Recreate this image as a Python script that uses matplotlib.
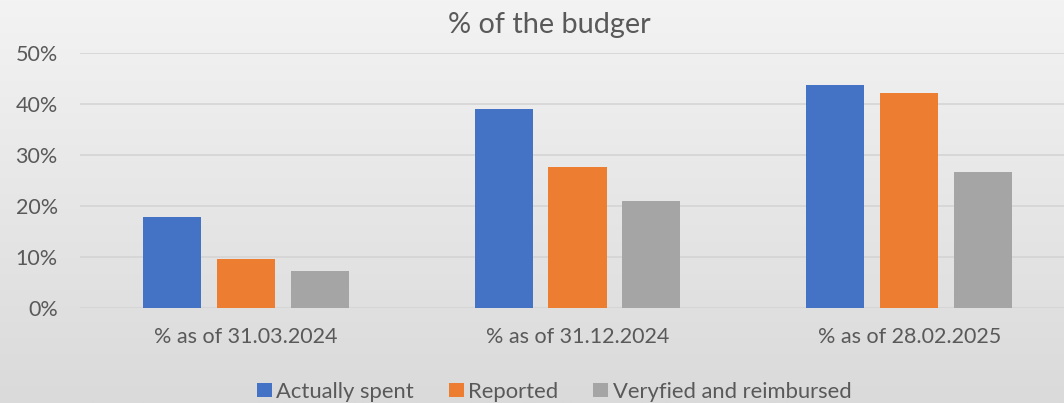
import numpy as np
import matplotlib
matplotlib.use("Agg")
import matplotlib.pyplot as plt
from matplotlib.colors import LinearSegmentedColormap
from matplotlib.patches import Patch

categories = ["% as of 31.03.2024", "% as of 31.12.2024", "% as of 28.02.2025"]
series_names = ["Actually spent", "Reported", "Veryfied and reimbursed"]
actually_spent = [0.178, 0.390, 0.437]
reported = [0.096, 0.276, 0.422]
verified = [0.072, 0.210, 0.266]
yticks = [0, 0.1, 0.2, 0.3, 0.4, 0.5]
ytick_labels = ["0%", "10%", "20%", "30%", "40%", "50%"]
title = "% of the budger"

colors = ["#4472C4", "#ED7D31", "#A5A5A5"]
text_color = "#595959"

plt.rcParams['font.family'] = ['Lato', 'DejaVu Sans']

W, H = 1064, 403
fig = plt.figure(figsize=(W / 100, H / 100), dpi=100)

# gradient background
bg = fig.add_axes([0, 0, 1, 1], zorder=-10)
grad = np.linspace(0, 1, 256).reshape(-1, 1)
cmap = LinearSegmentedColormap.from_list("bg", ["#f3f3f3", "#dadada"])
bg.imshow(grad, aspect="auto", cmap=cmap, extent=[0, 1, 0, 1], origin="upper")
bg.axis("off")

ax = fig.add_axes([80 / W, 95 / H, 995 / W, 255 / H])
ax.patch.set_alpha(0)

x = np.arange(len(categories))
step = 0.223
width = 0.175
for i, (vals, name) in enumerate(zip([actually_spent, reported, verified], series_names)):
    ax.bar(x + (i - 1) * step, vals, width=width, color=colors[i], label=name, zorder=3)

ax.set_xlim(-0.5, 2.5)
ax.set_ylim(0, 0.5)
ax.set_yticks(yticks)
ax.set_yticklabels(ytick_labels)
ax.set_xticks(x)
ax.set_xticklabels(categories)
ax.tick_params(axis="both", length=0, labelsize=15.5, colors=text_color)
ax.tick_params(axis="y", pad=16)
ax.tick_params(axis="x", pad=14)
ax.grid(axis="y", color="#d4d4d4", linewidth=1.2, zorder=0)
for s in ax.spines.values():
    s.set_visible(False)

fig.text(549 / W, 1 - 25 / H, title, ha="center", va="center", fontsize=20.8, color=text_color)

handles = [Patch(facecolor=c, edgecolor="none") for c in colors]
fig.legend(handles, series_names, loc="center", bbox_to_anchor=(554 / W, 1 - 392 / H), ncol=3,
           frameon=False, fontsize=15.8, labelcolor=text_color, handlelength=0.68, handleheight=0.62,
           handletextpad=0.2, columnspacing=1.6, borderaxespad=0, borderpad=0)

fig.savefig("out.png", dpi=100)
